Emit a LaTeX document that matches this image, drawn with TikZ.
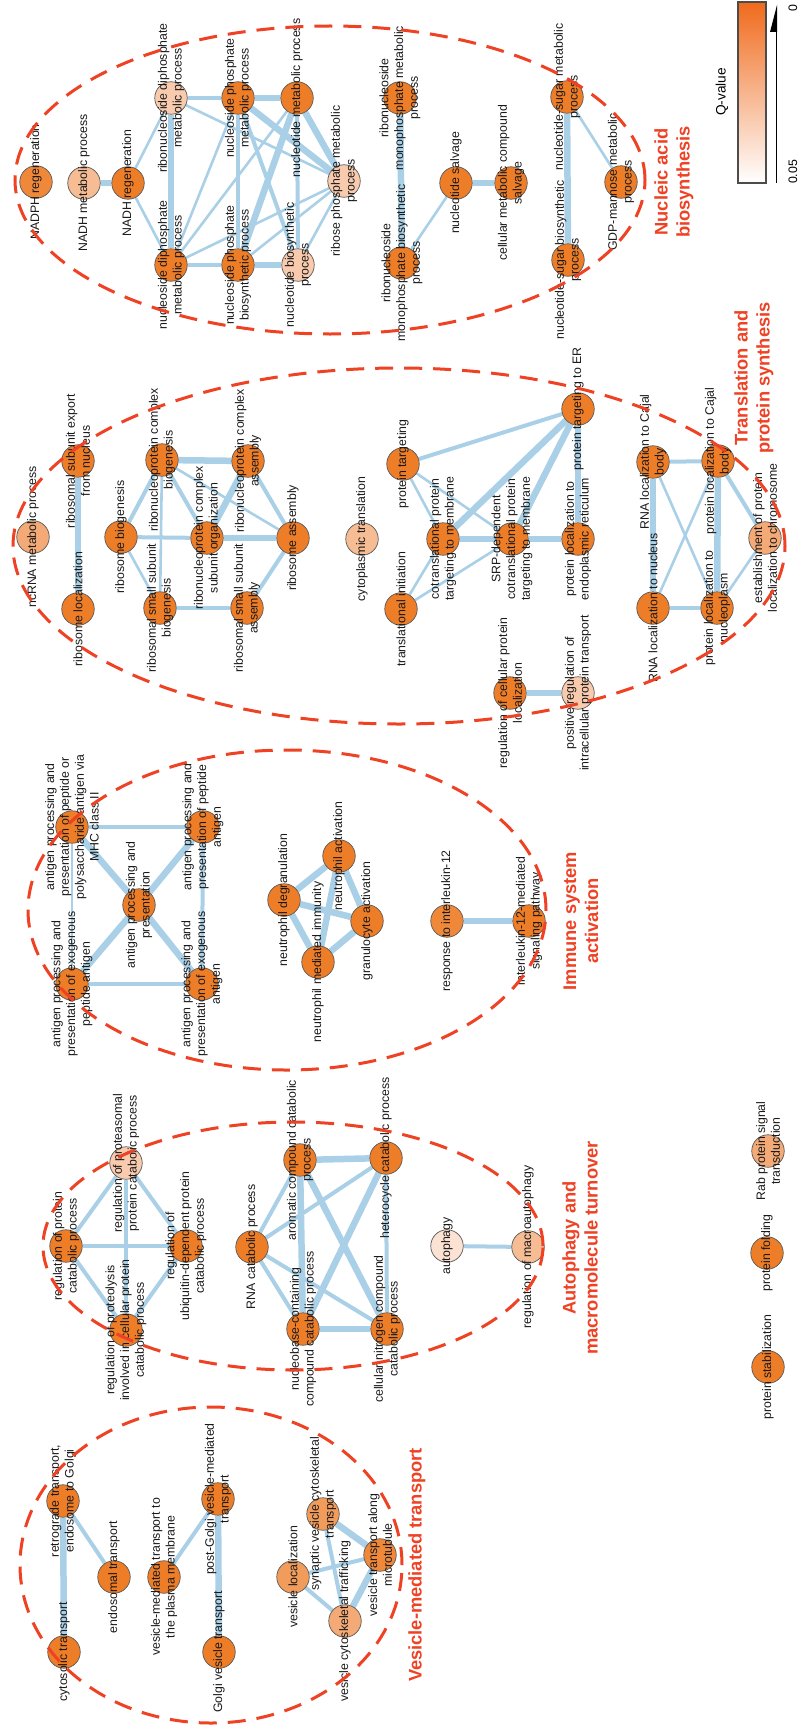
\documentclass[tikz,border=0pt]{standalone}
\usepackage{fontspec}
\setmainfont{Liberation Sans}
\pgfdeclarelayer{edgelayer}
\pgfsetlayers{edgelayer,main}
\definecolor{oA}{HTML}{EE7D28}
\definecolor{oB}{HTML}{F0883A}
\definecolor{oM}{HTML}{F29C5C}
\definecolor{oN}{HTML}{F4AA76}
\definecolor{oL}{HTML}{F6BC94}
\definecolor{oP}{HTML}{F9CBAE}
\definecolor{oW}{HTML}{FBE2D2}
\definecolor{edgeblue}{HTML}{A9D0E6}
\definecolor{titlered}{HTML}{EF4123}
\definecolor{legor}{HTML}{F06A1C}
\newcommand\gonode[5]{\node[gn, fill=#4, label={[lb]center:{#5}}] (#1) at (#2,#3) {};}
\tikzset{
  gn/.style={circle, draw=black!65, line width=0.7pt, minimum size=32.5pt, inner sep=0pt},
  lb/.style={rotate=90, align=center, inner sep=0pt, text=black!90, font=\fontsize{12.3}{14.8}\selectfont},
  ttl/.style={rotate=90, align=center, inner sep=0pt, text=titlered, font=\fontsize{18.3}{22}\selectfont\bfseries},
  ell/.style={draw=titlered, line width=3pt, dash pattern=on 18pt off 11pt},
  ea/.style={draw=edgeblue, line width=2.6pt},
  eb/.style={draw=edgeblue, line width=4pt},
  ec/.style={draw=edgeblue, line width=6.5pt},
  lgt/.style={rotate=90, inner sep=0pt, font=\fontsize{12.3}{14}\selectfont}
}
\begin{document}
\begin{tikzpicture}[x=1pt,y=-1pt]
\useasboundingbox (0,0) rectangle (798,1726);
% ---------- Nucleic acid biosynthesis ----------
\gonode{n1}{36}{182}{oB}{NADPH regeneration}
\gonode{n2}{84}{183}{oL}{NADH metabolic process}
\gonode{n3}{128}{183}{oA}{NADH regeneration}
\gonode{n4}{171}{98}{oP}{ribonucleoside diphosphate\\metabolic process}
\gonode{n5}{171}{265}{oA}{nucleoside diphosphate\\metabolic process}
\gonode{n6}{238}{98}{oA}{nucleoside phosphate\\metabolic process}
\gonode{n7}{238}{265}{oA}{nucleoside phosphate\\biosynthetic process}
\gonode{n8}{297}{98}{oA}{nucleotide metabolic process}
\gonode{n9}{298}{265}{oP}{nucleotide biosynthetic\\process}
\gonode{n10}{344}{181}{oP}{ribose phosphate metabolic\\process}
\gonode{n11}{400}{98}{oA}{ribonucleoside\\monophosphate metabolic\\process}
\gonode{n12}{402}{263}{oA}{ribonucleoside\\monophosphate biosynthetic\\process}
\gonode{n13}{456}{183}{oA}{nucleotide salvage}
\gonode{n14}{511}{183}{oA}{cellular metabolic compound\\salvage}
\gonode{n15}{567}{97}{oA}{nucleotide-sugar metabolic\\process}
\gonode{n16}{568}{260}{oA}{nucleotide-sugar biosynthetic\\process}
\gonode{n17}{621}{182}{oA}{GDP-mannose metabolic\\process}
% ---------- Translation ----------
\gonode{t1}{33}{537}{oN}{ncRNA metabolic process}
\gonode{t2}{78}{461}{oA}{ribosomal subunit export\\from nucleus}
\gonode{t3}{78}{609}{oA}{ribosome localization}
\gonode{t4}{121}{537}{oA}{ribosome biogenesis}
\gonode{t5}{162}{460}{oA}{ribonucleoprotein complex\\biogenesis}
\gonode{t6}{160}{608}{oA}{ribosomal small subunit\\biogenesis}
\gonode{t7}{207}{538}{oA}{ribonucleoprotein complex\\subunit organization}
\gonode{t8}{248}{461}{oA}{ribonucleoprotein complex\\assembly}
\gonode{t9}{247}{608}{oA}{ribosomal small subunit\\assembly}
\gonode{t10}{293}{538}{oA}{ribosome assembly}
\gonode{t11}{362}{539}{oL}{cytoplasmic translation}
\gonode{t12}{403}{464}{oA}{protein targeting}
\gonode{t13}{401}{609}{oA}{translational initiation}
\gonode{t14}{443}{539}{oA}{cotranslational protein\\targeting to membrane}
\gonode{t15}{512}{539}{oA}{SRP-dependent\\cotranslational protein\\targeting to membrane}
\gonode{t16}{578}{539}{oA}{protein localization to\\endoplasmic reticulum}
\gonode{t17}{578}{409}{oA}{protein targeting to ER}
\gonode{t18}{510}{693}{oA}{regulation of cellular protein\\localization}
\gonode{t19}{578}{693}{oP}{positive regulation of\\intracellular protein transport}
\gonode{t20}{653}{462}{oA}{RNA localization to Cajal\\body}
\gonode{t21}{718}{461}{oA}{protein localization to Cajal\\body}
\gonode{t22}{653}{608}{oA}{RNA localization to nucleus}
\gonode{t23}{717}{608}{oA}{protein localization to\\nucleoplasm}
\gonode{t24}{765}{538}{oN}{establishment of protein\\localization to chromosome}
% ---------- Immune ----------
\gonode{i1}{72}{827}{oA}{antigen processing and\\presentation of peptide or\\polysaccharide antigen via\\MHC class II}
\gonode{i2}{72}{984}{oA}{antigen processing and\\presentation of exogenous\\peptide antigen}
\gonode{i3}{139}{905}{oA}{antigen processing and\\presentation}
\gonode{i4}{203}{827}{oA}{antigen processing and\\presentation of peptide\\antigen}
\gonode{i5}{202}{984}{oA}{antigen processing and\\presentation of exogenous\\antigen}
\gonode{i6}{284}{900}{oA}{neutrophil degranulation}
\gonode{i7}{339}{856}{oA}{neutrophil activation}
\gonode{i8}{318}{962}{oA}{neutrophil mediated immunity}
\gonode{i9}{367}{921}{oA}{granulocyte activation}
\gonode{i10}{447}{921}{oB}{response to interleukin-12}
\gonode{i11}{529}{921}{oA}{interleukin-12-mediated\\signaling pathway}
% ---------- Autophagy ----------
\gonode{a1}{66}{1246}{oA}{regulation of protein\\catabolic process}
\gonode{a2}{126}{1163}{oP}{regulation of proteasomal\\protein catabolic process}
\gonode{a3}{126}{1330}{oA}{regulation of proteolysis\\involved in cellular protein\\catabolic process}
\gonode{a4}{186}{1246}{oA}{regulation of\\ubiquitin-dependent protein\\catabolic process}
\gonode{a5}{252}{1247}{oA}{RNA catabolic process}
\gonode{a6}{300}{1160}{oA}{aromatic compound catabolic\\process}
\gonode{a7}{386}{1158}{oA}{heterocycle catabolic process}
\gonode{a8}{303}{1329}{oA}{nucleobase-containing\\compound catabolic process}
\gonode{a9}{387}{1329}{oA}{cellular nitrogen compound\\catabolic process}
\gonode{a10}{447}{1246}{oW}{autophagy}
\gonode{a11}{528}{1247}{oL}{regulation of macroautophagy}
\gonode{o1}{768}{1151}{oN}{Rab protein signal\\transduction}
\gonode{o2}{767}{1253}{oA}{protein folding}
\gonode{o3}{768}{1367}{oA}{protein stabilization}
% ---------- Vesicle ----------
\gonode{v1}{63}{1501}{oA}{retrograde transport,\\endosome to Golgi}
\gonode{v2}{64}{1652}{oA}{cytosolic transport}
\gonode{v3}{114}{1577}{oA}{endosomal transport}
\gonode{v4}{164}{1577}{oA}{vesicle-mediated transport to\\the plasma membrane}
\gonode{v5}{218}{1499}{oA}{post-Golgi vesicle-mediated\\transport}
\gonode{v6}{219}{1652}{oA}{Golgi vesicle transport}
\gonode{v7}{293}{1577}{oM}{vesicle localization}
\gonode{v8}{323}{1514}{oM}{synaptic vesicle cytoskeletal\\transport}
\gonode{v9}{380}{1555}{oB}{vesicle transport along\\microtubule}
\gonode{v10}{345}{1621}{oN}{vesicle cytoskeletal trafficking}
% ---------- Edges ----------
\begin{pgfonlayer}{edgelayer}
\draw[ec] (n2) -- (n3);
\draw[ea] (n3) -- (n4);
\draw[ea] (n3) -- (n5);
\draw[ec] (n4) -- (n5);
\draw[eb] (n4) -- (n6);
\draw[ec] (n6) -- (n8);
\draw[eb] (n5) -- (n7);
\draw[ec] (n7) -- (n9);
\draw[eb] (n6) -- (n7);
\draw[eb] (n8) -- (n9);
\draw[ea] (n8) -- (n5);
\draw[ec] (n8) -- (n7);
\draw[eb] (n6) -- (n9);
\draw[ea] (n5) -- (n6);
\draw[ea] (n4) -- (n10);
\draw[ec] (n6) -- (n10);
\draw[ec] (n8) -- (n10);
\draw[ea] (n5) -- (n10);
\draw[ea] (n7) -- (n10);
\draw[ea] (n9) -- (n10);
\draw[ec] (n11) -- (n12);
\draw[ea] (n12) -- (n13);
\draw[ec] (n13) -- (n14);
\draw[ec] (n15) -- (n16);
\draw[ea] (n15) -- (n17);
\draw[ec] (t2) -- (t3);
\draw[eb] (t4) -- (t5);
\draw[ea] (t4) -- (t6);
\draw[eb] (t4) -- (t7);
\draw[ea] (t5) -- (t6);
\draw[ec] (t5) -- (t8);
\draw[eb] (t5) -- (t7);
\draw[ea] (t5) -- (t10);
\draw[ec] (t8) -- (t7);
\draw[eb] (t8) -- (t10);
\draw[ec] (t7) -- (t10);
\draw[eb] (t6) -- (t9);
\draw[eb] (t9) -- (t10);
\draw[eb] (t12) -- (t17);
\draw[ea] (t12) -- (t14);
\draw[ea] (t12) -- (t15);
\draw[ea] (t13) -- (t14);
\draw[ea] (t13) -- (t15);
\draw[ec] (t14) -- (t15);
\draw[ec] (t15) -- (t16);
\draw[ec] (t14) -- (t17);
\draw[ec] (t15) -- (t17);
\draw[ec] (t16) -- (t17);
\draw[ec] (t18) -- (t19);
\draw[eb] (t20) -- (t21);
\draw[ec] (t20) -- (t22);
\draw[ea] (t20) -- (t23);
\draw[ea] (t21) -- (t22);
\draw[ec] (t21) -- (t23);
\draw[eb] (t21) -- (t24);
\draw[eb] (t22) -- (t23);
\draw[ea] (t23) -- (t24);
\draw[eb] (i1) -- (i4);
\draw[ea] (i1) -- (i2);
\draw[ec] (i1) -- (i3);
\draw[ec] (i4) -- (i3);
\draw[eb] (i4) -- (i5);
\draw[ec] (i2) -- (i3);
\draw[ec] (i5) -- (i3);
\draw[eb] (i2) -- (i5);
\draw[ec] (i6) -- (i7);
\draw[ec] (i6) -- (i8);
\draw[ec] (i6) -- (i9);
\draw[ec] (i7) -- (i8);
\draw[ec] (i7) -- (i9);
\draw[ec] (i8) -- (i9);
\draw[ec] (i10) -- (i11);
\draw[eb] (a1) -- (a2);
\draw[eb] (a1) -- (a3);
\draw[eb] (a1) -- (a4);
\draw[eb] (a2) -- (a3);
\draw[eb] (a2) -- (a4);
\draw[eb] (a3) -- (a4);
\draw[eb] (a5) -- (a6);
\draw[eb] (a5) -- (a7);
\draw[eb] (a5) -- (a8);
\draw[eb] (a5) -- (a9);
\draw[ec] (a6) -- (a7);
\draw[ec] (a6) -- (a8);
\draw[ec] (a6) -- (a9);
\draw[ec] (a7) -- (a8);
\draw[eb] (a7) -- (a9);
\draw[ec] (a8) -- (a9);
\draw[eb] (a10) -- (a11);
\draw[ec] (v1) -- (v2);
\draw[eb] (v1) -- (v3);
\draw[eb] (v4) -- (v5);
\draw[ec] (v5) -- (v6);
\draw[eb] (v7) -- (v9);
\draw[eb] (v7) -- (v10);
\draw[ec] (v8) -- (v9);
\draw[eb] (v8) -- (v10);
\draw[ec] (v9) -- (v10);
\end{pgfonlayer}
% ---------- Cluster outlines ----------
\draw[ell] (330,180) ellipse [x radius=315pt, y radius=154pt];
\draw[ell] (399,546) ellipse [x radius=386pt, y radius=178pt];
\draw[ell] (287,910) ellipse [x radius=259pt, y radius=160pt];
\draw[ell] (293,1246) ellipse [x radius=250pt, y radius=124pt];
\draw[ell] (211,1565) ellipse [x radius=191pt, y radius=158pt];
% ---------- Titles ----------
\node[ttl] (T1) at (674,182) {Nucleic acid\\biosynthesis};
\node[ttl] (T2) at (754,378) {Translation and\\protein synthesis};
\node[ttl] (T3) at (581,921) {Immune system\\activation};
\node[ttl] (T4) at (580,1248) {Autophagy and\\macromolecule turnover};
\node[ttl] (T5) at (417,1565) {Vesicle-mediated transport};
% ---------- Legend ----------
\shade[top color=legor, bottom color=white] (738,2) rectangle (766,183);
\draw[black!70, line width=1.2pt] (738,2) rectangle (766,183);
\fill[black] (770,32) -- (777,5) -- (777,32) -- cycle;
\draw[black, line width=1pt] (776.5,30) -- (776.5,183);
\node[lgt] (L0) at (793,8) {0};
\node[lgt] (L1) at (793,172) {0.05};
\node[rotate=90, inner sep=0pt, font=\fontsize{13.7}{15}\selectfont] (LQ) at (722,92) {Q-value};
\end{tikzpicture}
\end{document}
